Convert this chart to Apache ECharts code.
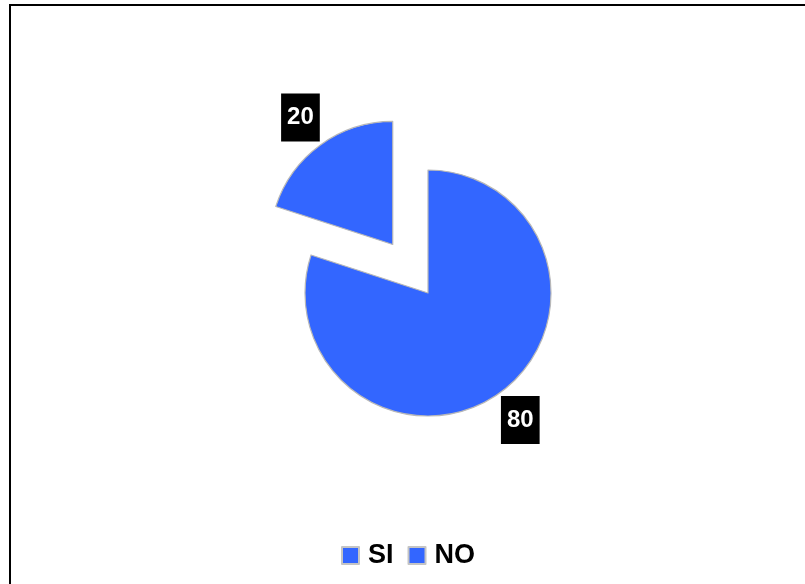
<!DOCTYPE html>
<html>
<head>
<meta charset="utf-8">
<script src="https://cdn.jsdelivr.net/npm/echarts@6/dist/echarts.min.js"></script>
<style>
  html, body { margin: 0; padding: 0; background: #fff; }
  #chart { width: 805px; height: 584px; }
</style>
</head>
<body>
<div id="chart"></div>
<script>
// Answers to the question, in legend order
const categories = ['SI', 'NO'];
const values = [80, 20];
// Which slice is pulled out of the pie
const pulledOut = [false, true];

const sliceColor = '#3366FF';
const center = [428, 293];
const pullDistance = 60;

const pieData = categories.map((name, i) => ({
  name: name,
  value: values[i],
  selected: pulledOut[i]
}));

const chart = echarts.init(document.getElementById('chart'), null, { renderer: 'canvas' });

chart.setOption({
  animation: false,
  backgroundColor: '#fff',
  color: [sliceColor, sliceColor],
  graphic: [{
    type: 'rect',
    shape: { x: 10, y: 5, width: 820, height: 620 },
    style: { fill: 'none', stroke: '#000', lineWidth: 2 },
    silent: true,
    z: -1
  }],
  legend: {
    data: categories,
    left: 336,
    top: 537,
    itemWidth: 17,
    itemHeight: 17,
    itemGap: 14,
    icon: 'rect',
    itemStyle: { color: sliceColor, borderColor: '#c4c4c4', borderWidth: 2 },
    textStyle: {
      fontFamily: 'Liberation Sans, Arial, sans-serif',
      fontSize: 27,
      fontWeight: 'bold',
      color: '#000',
      padding: [0, 0, 0, 4]
    },
    selectedMode: false
  },
  series: [
    {
      // the pie slices
      type: 'pie',
      center: center,
      radius: [0, 123],
      startAngle: 90,
      clockwise: true,
      selectedMode: 'multiple',
      selectedOffset: pullDistance,
      avoidLabelOverlap: false,
      label: { show: false },
      labelLine: { show: false },
      itemStyle: { borderColor: '#b8b8b8', borderWidth: 1.2 },
      emphasis: { disabled: true },
      data: pieData
    },
    {
      // value tags, set on a clear ring just outside the slices
      type: 'pie',
      center: center,
      radius: [138, 170],
      startAngle: 90,
      clockwise: true,
      selectedMode: 'multiple',
      selectedOffset: pullDistance,
      silent: true,
      avoidLabelOverlap: false,
      itemStyle: { color: 'rgba(0,0,0,0)', borderWidth: 0 },
      label: {
        show: true,
        position: 'inside',
        formatter: '{c}',
        color: '#fff',
        backgroundColor: '#000',
        fontFamily: 'Liberation Sans, Arial, sans-serif',
        fontSize: 24,
        fontWeight: 'bold',
        padding: [12, 6],
        lineHeight: 24
      },
      labelLine: { show: false },
      emphasis: { disabled: true },
      legendHoverLink: false,
      data: pieData
    }
  ]
});
</script>
</body>
</html>
